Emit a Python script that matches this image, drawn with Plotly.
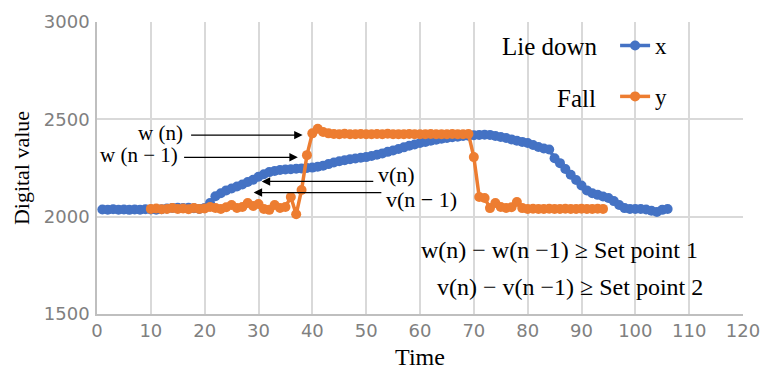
import plotly.graph_objects as go

# ---- data ----
t_lie = list(range(1, 107))
lie_down = [2037, 2036, 2038, 2036, 2037, 2035, 2037, 2036, 2038, 2037,
            2036, 2038, 2042, 2045, 2046, 2044, 2046, 2043, 2040, 2045,
            2070, 2105, 2120, 2135, 2145, 2155, 2165, 2178, 2190, 2205,
            2218, 2229, 2235, 2240, 2242, 2244, 2246, 2248, 2250, 2252,
            2256, 2262, 2270, 2278, 2285, 2290, 2295, 2299, 2303, 2306,
            2312, 2318, 2325, 2333, 2340, 2348, 2356, 2364, 2371, 2378,
            2384, 2390, 2395, 2400, 2404, 2408, 2411, 2414, 2416, 2418,
            2420, 2421, 2420, 2414, 2409, 2404, 2397, 2390, 2384, 2378,
            2368, 2358, 2350, 2345, 2300, 2275, 2245, 2215, 2188, 2160,
            2135, 2120, 2112, 2104, 2096, 2080, 2060, 2044, 2040, 2039,
            2039, 2037, 2030, 2024, 2035, 2039]

t_fall = list(range(10, 95))
fall = [2040, 2042, 2038, 2040, 2045, 2040, 2042, 2038, 2045, 2040,
        2042, 2050, 2045, 2040, 2048, 2060, 2045, 2050, 2070, 2055,
        2065, 2040, 2035, 2060, 2045, 2050, 2101, 2012, 2137, 2316,
        2428, 2452, 2435, 2428, 2425, 2424, 2426, 2423, 2424, 2425,
        2424, 2423, 2425, 2424, 2426, 2424, 2423, 2424, 2425, 2424,
        2423, 2424, 2425, 2424, 2423, 2424, 2425, 2424, 2424, 2425,
        2306, 2101, 2096, 2044, 2070, 2050, 2045, 2048, 2075, 2044,
        2040, 2041, 2040, 2040, 2041, 2040, 2040, 2041, 2040, 2040,
        2041, 2040, 2040, 2041, 2040]

x_ticks = list(range(0, 121, 10))
y_ticks = [1500, 2000, 2500, 3000]

BLUE = "#4472C4"
ORANGE = "#ED7D31"
SERIF = "Liberation Serif"
SANS = "DejaVu Sans"

fig = go.Figure()
fig.add_trace(go.Scatter(x=t_lie, y=lie_down, name="x", mode="lines+markers",
                         line=dict(color=BLUE, width=3.5),
                         marker=dict(color=BLUE, size=10), legendgroup="a"))
fig.add_trace(go.Scatter(x=t_fall, y=fall, name="y", mode="lines+markers",
                         line=dict(color=ORANGE, width=3.5),
                         marker=dict(color=ORANGE, size=10), legendgroup="b"))

ann = []
# arrows (tail -> head)
arrows = [
    (17.2, 2419, 38.2, 2419),
    (15.9, 2305, 37.3, 2305),
    (51.6, 2181, 30.6, 2181),
    (53.1, 2124, 29.1, 2124),
]
for ax_, ay_, x_, y_ in arrows:
    ann.append(dict(x=x_, y=y_, ax=ax_, ay=ay_, xref="x", yref="y",
                    axref="x", ayref="y", text="", showarrow=True,
                    arrowhead=2, arrowsize=1.3, arrowwidth=1.3,
                    arrowcolor="black"))

def txt(x, y, s, anchor, size=23):
    ann.append(dict(x=x, y=y, xref="x", yref="y", text=s, showarrow=False,
                    xanchor=anchor, yanchor="middle",
                    font=dict(family=SERIF, size=size, color="black")))

txt(16.4, 2432, "w (n)", "right", 21)
txt(15.5, 2318, "w (n − 1)", "right", 21)
txt(51.8, 2217, "v(n)", "left", 22)
txt(53.3, 2088, "v(n − 1)", "left", 22)
txt(93.4, 2876, "Lie down", "right", 25)
txt(93.0, 2609, "Fall", "right", 25)
txt(112.0, 1829, "w(n) − w(n −1) ≥ Set point 1", "right", 24)
txt(112.9, 1638, "v(n) − v(n −1) ≥ Set point 2", "right", 24)

fig.update_layout(
    width=763, height=374,
    margin=dict(l=97, r=20, t=22, b=60),
    plot_bgcolor="white", paper_bgcolor="white",
    annotations=ann,
    legend=dict(x=0.802, y=0.993, xanchor="left", yanchor="top",
                bgcolor="rgba(0,0,0,0)", tracegroupgap=18,
                font=dict(family=SERIF, size=23, color="black")),
    xaxis=dict(range=[0, 120], tickvals=x_ticks, showgrid=True,
               gridcolor="#d9d9d9", gridwidth=1.5, showline=True,
               linecolor="#bfbfbf", linewidth=1.5, zeroline=False,
               automargin=False,
               tickfont=dict(family=SANS, size=18, color="#808080"),
               title=dict(text="Time", standoff=8,
                          font=dict(family=SERIF, size=24, color="black"))),
    yaxis=dict(range=[1500, 3000], tickvals=y_ticks, showgrid=True,
               gridcolor="#d9d9d9", gridwidth=1.5, showline=True,
               linecolor="#bfbfbf", linewidth=1.5, zeroline=False,
               automargin=False, ticklabelstandoff=2,
               tickfont=dict(family=SANS, size=18, color="#808080"),
               title=dict(text="Digital value", standoff=8,
                          font=dict(family=SERIF, size=22, color="black"))),
)

fig.write_html(
    "out.html",
    config={"displayModeBar": False},
    post_script="document.body.style.margin='0';"
                "document.body.style.overflow='hidden';",
)
